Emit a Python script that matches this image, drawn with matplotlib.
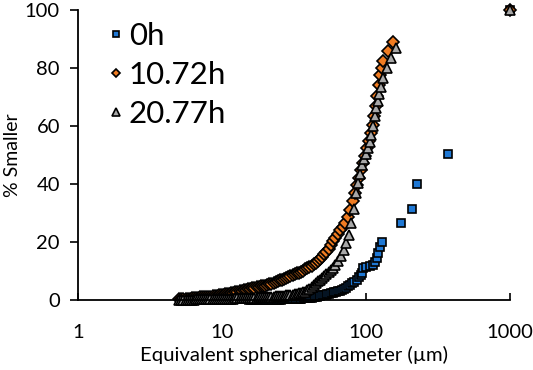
import matplotlib
matplotlib.use('Agg')
import matplotlib.pyplot as plt

plt.rcParams['font.family'] = ['Lato', 'DejaVu Sans']

# 0h
D_0H = [15.5, 16.0, 16.5, 17.0, 17.5, 18.0, 18.5, 19.0, 19.5, 20.0,
        20.6, 21.2, 21.8, 22.4, 23.0, 23.6, 24.2, 24.9, 25.6, 26.3,
        27.0, 27.8, 28.6, 29.4, 30.2, 31.0, 31.9, 32.8, 33.7, 34.6,
        35.6, 36.6, 37.6, 38.7, 39.8, 40.9, 42.0, 43.2, 44.4, 45.7,
        47.0, 48.3, 49.7, 51.1, 52.5, 54.0, 55.5, 57.0, 58.6, 60.2,
        62.0, 64.0, 66.0, 68.0, 70.0, 72.5, 75.0, 77.0, 80.0, 83.0,
        87, 90, 92, 94, 95, 100, 106, 112, 116, 119,
        121, 125, 129, 174, 208, 225, 373, 1000]
V_0H = [0, 0, 0, 0.01, 0.02, 0.03, 0.04, 0.05, 0.06, 0.07,
        0.08, 0.09, 0.1, 0.11, 0.12, 0.13, 0.14, 0.15, 0.16, 0.18,
        0.2, 0.22, 0.24, 0.26, 0.28, 0.3, 0.33, 0.36, 0.4, 0.44,
        0.48, 0.53, 0.58, 0.64, 0.7, 0.77, 0.85, 0.95, 1.05, 1.2,
        1.35, 1.5, 1.6, 1.7, 1.85, 2.0, 2.15, 2.3, 2.45, 2.6,
        2.8, 3.0, 3.2, 3.5, 3.9, 4.3, 4.7, 5.2, 5.8, 6.3,
        6.9, 7.8, 8.6, 9.3, 11.0, 11.4, 11.7, 12.0, 13.2, 14.4,
        16.2, 18.2, 20.0, 26.6, 31.5, 39.9, 50.5, 100]

# 10.72h
D_10H = [5.0, 5.2, 5.4, 5.6, 5.8, 6.0, 6.2, 6.4, 6.6, 6.8,
         7.0, 7.25, 7.5, 7.75, 8.0, 8.3, 8.6, 8.9, 9.2, 9.5,
         9.8, 10.1, 10.45, 10.8, 11.2, 11.6, 12.0, 12.4, 12.8, 13.25,
         13.7, 14.2, 14.7, 15.2, 15.7, 16.25, 16.8, 17.4, 18.0, 18.6,
         19.25, 19.9, 20.6, 21.3, 22.0, 22.8, 23.6, 24.4, 25.2, 26.1,
         27.0, 27.9, 28.9, 29.9, 30.9, 32.0, 33.1, 34.2, 35.4, 36.6,
         37.9, 39.2, 40.5, 41.9, 43.4, 44.9, 46.4, 48.0, 49.7, 51.4,
         53.1, 55.0, 56.9, 58.8, 61.0, 63.5, 66.0, 69.0, 72.0, 75.0,
         78, 81, 84, 87, 90, 93, 96, 99, 102, 105,
         108, 111, 114, 117, 120, 123, 126, 129, 132, 142,
         154, 1000]
V_10H = [0.30, 0.33, 0.36, 0.40, 0.44, 0.50, 0.56, 0.62, 0.70, 0.80,
         0.90, 0.95, 1.0, 1.05, 1.12, 1.2, 1.3, 1.4, 1.5, 1.62,
         1.73, 1.83, 1.95, 2.05, 2.17, 2.3, 2.43, 2.6, 2.75, 2.95,
         3.12, 3.3, 3.5, 3.65, 3.8, 4.0, 4.15, 4.35, 4.55, 4.7,
         4.85, 5.0, 5.2, 5.45, 5.65, 5.95, 6.2, 6.5, 6.75, 7.05,
         7.35, 7.65, 7.95, 8.25, 8.55, 8.85, 9.15, 9.45, 9.8, 10.15,
         10.55, 10.95, 11.35, 11.8, 12.3, 12.8, 13.4, 14.1, 14.9, 15.7,
         16.6, 17.7, 18.9, 20.2, 21.5, 22.8, 24.1, 25.3, 26.6, 28.5,
         31.2, 34.0, 36.8, 39.5, 42.2, 44.8, 47.3, 49.8, 52.3, 54.8,
         57.5, 60.4, 63.5, 66.8, 70.2, 74.0, 77.5, 80.0, 82.3, 85.8,
         89.1, 100]

# 20.77h
D_20H = [5.0, 5.2, 5.4, 5.6, 5.8, 6.0, 6.2, 6.4, 6.6, 6.8,
         7.0, 7.25, 7.5, 7.75, 8.0, 8.3, 8.6, 8.9, 9.2, 9.5,
         9.8, 10.1, 10.45, 10.8, 11.2, 11.6, 12.0, 12.4, 12.8, 13.25,
         13.7, 14.2, 14.7, 15.2, 15.7, 16.25, 16.8, 17.4, 18.0, 18.6,
         19.25, 19.9, 20.6, 21.3, 22.0, 22.8, 23.6, 24.4, 25.2, 26.1,
         27.0, 27.9, 28.9, 29.9, 30.9, 32.0, 33.1, 34.2, 35.4, 36.6,
         37.9, 39.2, 40.5, 41.9, 43.4, 44.9, 46.4, 48.0, 49.7, 51.4,
         53.1, 55.0, 56.9, 58.8, 61.0, 64.0, 67.0, 70.0, 73.0, 76.0,
         79, 82, 85, 88, 91, 94, 97, 100, 103, 106,
         109, 112, 115, 118, 121, 124, 127, 131, 140, 150,
         161, 1000]
V_20H = [0.10, 0.11, 0.12, 0.13, 0.14, 0.15, 0.16, 0.17, 0.18, 0.19,
         0.20, 0.21, 0.22, 0.23, 0.24, 0.26, 0.28, 0.30, 0.32, 0.34,
         0.36, 0.38, 0.40, 0.42, 0.45, 0.48, 0.51, 0.54, 0.57, 0.60,
         0.63, 0.66, 0.69, 0.72, 0.75, 0.78, 0.82, 0.86, 0.90, 0.94,
         0.98, 1.02, 1.06, 1.10, 1.15, 1.20, 1.25, 1.30, 1.35, 1.42,
         1.50, 1.58, 1.67, 1.76, 1.86, 1.97, 2.10, 2.25, 2.42, 2.60,
         2.8, 3.3, 3.9, 4.5, 5.1, 5.8, 6.5, 7.0, 7.6, 8.2,
         8.9, 9.6, 10.4, 11.2, 12.2, 13.6, 15.2, 17.2, 19.5, 22.5,
         26.5, 31.5, 36.8, 40.5, 43.5, 46.4, 48.5, 50.5, 52.5, 54.5,
         56.8, 60.0, 63.3, 66.2, 68.6, 71.0, 73.6, 76.5, 80.1, 83.5,
         87.0, 100]

X_TICKS = [1, 10, 100, 1000]
Y_TICKS = [0, 20, 40, 60, 80, 100]

fig = plt.figure(figsize=(5.33, 3.70), dpi=100)
ax = fig.add_axes([78 / 533, 1 - 300 / 370, 432 / 533, 290 / 370])

ax.plot(D_0H, V_0H, 's', ms=6, mfc='#1F78D4', mec='black', mew=1.2,
        linestyle='none', label='0h', clip_on=False)
ax.plot(D_10H, V_10H, 'D', ms=5.8, mfc='#F07C22', mec='black', mew=1.2,
        linestyle='none', label='10.72h', clip_on=False)
ax.plot(D_20H, V_20H, '^', ms=7, mfc='#A8A8A8', mec='black', mew=1.2,
        linestyle='none', label='20.77h', clip_on=False)

ax.set_xscale('log')
ax.set_xlim(1, 1000)
ax.set_ylim(0, 100)
ax.set_xticks(X_TICKS)
ax.set_xticklabels([str(t) for t in X_TICKS])
ax.set_yticks(Y_TICKS)
ax.xaxis.set_minor_locator(matplotlib.ticker.NullLocator())

for s in ['top', 'right']:
    ax.spines[s].set_visible(False)
for s in ['left', 'bottom']:
    ax.spines[s].set_linewidth(1.3)
    ax.spines[s].set_color('black')

ax.tick_params(axis='x', direction='in', length=5, width=1.2, pad=17,
               labelsize=14.5)
ax.tick_params(axis='y', direction='out', length=6, width=1.2, pad=7,
               labelsize=14.5)

ax.set_xlabel('Equivalent spherical diameter (µm)', fontsize=14.6, labelpad=4)
ax.set_ylabel('% Smaller', fontsize=14)
ax.yaxis.set_label_coords(-0.133, 0.5)

leg = fig.legend(loc='upper left', bbox_to_anchor=(107 / 533, 1 - 22 / 370),
                 frameon=False, fontsize=22.5, handlelength=0.6,
                 handletextpad=0.1, labelspacing=0.35, borderpad=0,
                 borderaxespad=0, markerscale=0.75)

fig.savefig('out.png', dpi=100)
